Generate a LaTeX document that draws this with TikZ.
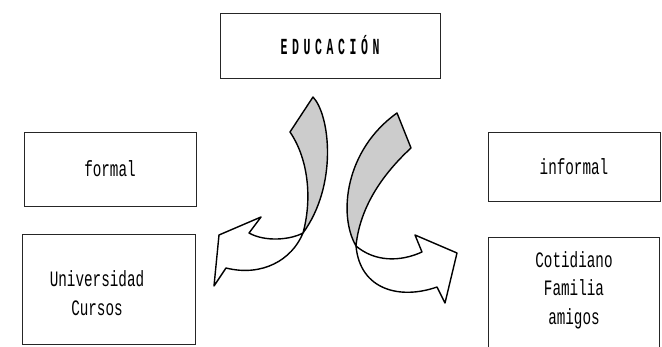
\documentclass[tikz,border=0pt]{standalone}
\usepackage{fontspec}
\usetikzlibrary{positioning}
\newfontfamily\boxfont[FakeStretch=0.65]{Liberation Mono}
\newfontfamily\titfont[FakeStretch=0.5,LetterSpace=20]{Liberation Mono}
\tikzset{caja/.style={draw=black!85,line width=.9pt,minimum width=172pt,inner sep=0pt,align=center,
   font=\boxfont\fontsize{22}{28.5}\selectfont},
 txt/.style={align=center,font=\boxfont\fontsize{22}{28.5}\selectfont},
 cinta/.style={draw=black,line width=1.4pt,line join=round,fill=white},
 gris/.style={cinta,fill=black!20}}
\begin{document}
\begin{tikzpicture}[x=1pt,y=-1pt]
\useasboundingbox (0,0) rectangle (662,347);
\clip (0,0) rectangle (662,347);
% cajas
\node[caja,minimum width=220pt,minimum height=65pt,font=\titfont\bfseries\fontsize{23}{26}\selectfont] (edu) at (330,45.5) {EDUCACIÓN};
\node[caja,minimum height=74pt] (formal) at (110,169) {formal};
\node[caja,minimum width=173pt,minimum height=110pt] (univ) at (108.5,289) {};
\node[txt] (univT) at (97,293) {Universidad\\Cursos};
\node[caja,minimum height=69pt] (informal) at (574,166.5) {informal};
\node[caja,minimum width=171pt,minimum height=123pt] (cotid) at (573.5,298.5) {};
\node[txt] (cotidT) at (574,290) {Cotidiano\\Familia\\amigos};
% flecha izquierda
\draw[gris] (290,132) -- (313,97) .. controls (330,115) and (338,185) .. (303,233)
  .. controls (312,200) and (309,160) .. cycle;
\draw[cinta] (303,233) .. controls (292,260) and (262,277) .. (226,268) -- (214,286) -- (219,235)
  -- (261,217) -- (249,233) .. controls (265,242) and (290,240) .. cycle;
% flecha derecha
\draw[gris] (397,113) -- (411,148) .. controls (385,172) and (360,205) .. (356,246)
  .. controls (338,215) and (345,150) .. cycle;
\draw[cinta] (356,246) .. controls (375,262) and (400,262) .. (422,252) -- (415,235) -- (457,253)
  -- (445,303) -- (437,287) .. controls (400,300) and (360,290) .. cycle;
\end{tikzpicture}
\end{document}
